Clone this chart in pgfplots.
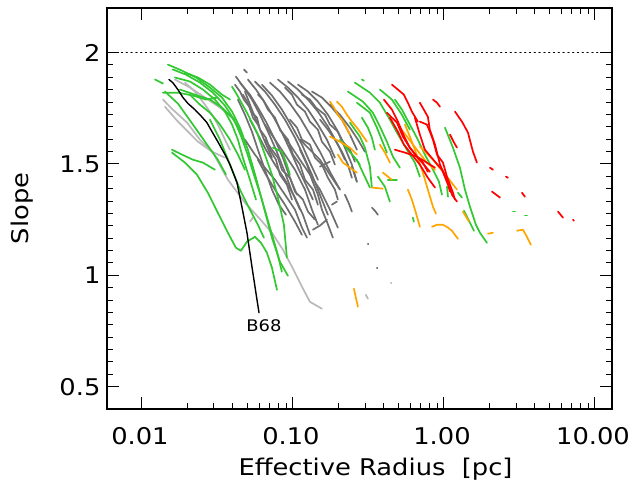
\documentclass[border=0pt]{standalone}
\usepackage{fontspec}
\setmainfont{DejaVu Sans}[FakeStretch=1.12]
\usepackage{pgfplots}
\pgfplotsset{compat=1.18}
\definecolor{cg}{RGB}{50,200,50}
\definecolor{dg}{RGB}{110,110,110}
\definecolor{lg}{RGB}{185,185,185}
\definecolor{co}{RGB}{255,165,0}
\definecolor{cr}{RGB}{255,0,0}
\begin{document}
\begin{tikzpicture}
\begin{axis}[
  name=ax,
  scale only axis, width=505pt, height=401pt,
  xmode=log, xmin=0.00587, xmax=12.96, ymin=0.4, ymax=2.2,
  xtick={0.01,0.1,1,10}, xticklabels={0.01,0.10,1.00,10.00},
  ytick={0.5,1,1.5,2}, yticklabels={0.5,1,1.5,2},
  minor y tick num=8,
  tick align=inside, major tick length=12pt, minor tick length=6pt,
  axis line style={line width=1.3pt}, tick style={line width=1pt,black},
  /pgf/number format/assume math mode=true,
  every tick label/.append style={font=\fontsize{23}{26}\selectfont},
  xticklabel style={yshift=-15pt, xshift=-2pt},
  yticklabel style={xshift=-3pt},
  xlabel={Effective Radius\ \ [pc]}, ylabel={Slope},
  label style={font=\fontsize{23}{26}\selectfont},
  xlabel style={at={(axis description cs:0.5,0)}, anchor=center, yshift=-60pt, xshift=16pt},
  ylabel style={at={(axis description cs:0,0.5)}, anchor=center, yshift=85pt},
  clip=true,
  every axis plot/.append style={no marks, line width=1.7pt, line cap=round, line join=round},
]
\addplot[black, line width=1.1pt, dash pattern=on 1.2pt off 3.6pt] coordinates {(0.00587,2) (12.96,2)};
% dark gray
\addplot[dg] coordinates {(0.0419,1.892)(0.0473,1.843)(0.0535,1.789)(0.06045,1.721)(0.0683,1.645)(0.0772,1.564)(0.0871,1.474)(0.0985,1.376)(0.1113,1.295)};
\addplot[dg] coordinates {(0.04457,1.865)(0.0519,1.811)(0.0586,1.753)(0.0662,1.690)(0.0760,1.609)(0.0858,1.528)(0.0955,1.438)(0.1063,1.362)};
\addplot[dg] coordinates {(0.0503,1.879)(0.0569,1.834)(0.0652,1.775)(0.0748,1.708)(0.0845,1.641)(0.0955,1.564)(0.1079,1.483)(0.1219,1.407)(0.1356,1.340)};
\addplot[dg] coordinates {(0.0560,1.870)(0.0652,1.825)(0.0760,1.766)(0.0885,1.699)(0.1031,1.618)(0.1164,1.542)(0.1336,1.452)(0.1509,1.362)(0.1704,1.272)};
\addplot[dg] coordinates {(0.0623,1.856)(0.0726,1.807)(0.0845,1.744)(0.0985,1.668)(0.1147,1.587)(0.1296,1.506)(0.1463,1.429)};
\addplot[dg] coordinates {(0.0704,1.865)(0.0820,1.825)(0.0955,1.771)(0.1113,1.708)(0.1296,1.632)(0.1509,1.555)(0.1757,1.465)(0.2046,1.385)};
\addplot[dg] coordinates {(0.0795,1.879)(0.0926,1.843)(0.1079,1.798)(0.1257,1.744)(0.1463,1.677)(0.1678,1.609)(0.1896,1.528)};
\addplot[dg] coordinates {(0.0926,1.870)(0.1079,1.834)(0.1257,1.789)(0.1463,1.735)(0.1704,1.668)(0.1984,1.587)(0.2208,1.519)};
\addplot[dg] coordinates {(0.1079,1.856)(0.1257,1.825)(0.1463,1.780)(0.1704,1.721)(0.1954,1.654)(0.2208,1.573)(0.2456,1.497)(0.2651,1.420)};
\addplot[dg] coordinates {(0.1336,1.825)(0.1555,1.798)(0.1811,1.753)(0.2109,1.699)(0.2383,1.632)(0.2651,1.564)};
\addplot[dg] coordinates {(0.0432,1.789)(0.0481,1.721)(0.0535,1.645)(0.0586,1.564)(0.0652,1.474)(0.0726,1.385)(0.0807,1.317)(0.0899,1.272)};
\addplot[dg] coordinates {(0.0519,1.699)(0.0586,1.632)(0.0662,1.564)(0.0760,1.497)(0.0885,1.429)(0.1031,1.349)(0.1164,1.272)(0.1296,1.182)};
\addplot[dg] coordinates {(0.0652,1.677)(0.0760,1.609)(0.0885,1.542)(0.1031,1.474)(0.1201,1.385)(0.1336,1.295)(0.1463,1.227)};
\addplot[dg] coordinates {(0.0820,1.654)(0.0955,1.587)(0.1113,1.519)(0.1296,1.452)(0.1509,1.385)(0.1757,1.295)(0.1984,1.214)};
\addplot[dg] coordinates {(0.1113,1.609)(0.1296,1.564)(0.1509,1.519)(0.1757,1.452)(0.2046,1.385)};
\addplot[dg] coordinates {(0.0481,1.609)(0.0560,1.542)(0.0652,1.483)(0.0760,1.429)(0.0885,1.362)(0.1031,1.295)(0.1147,1.214)(0.1238,1.169)};
\addplot[dg] coordinates {(0.0586,1.519)(0.0662,1.452)(0.0760,1.385)(0.0885,1.317)(0.1031,1.241)(0.1147,1.182)};
\addplot[dg] coordinates {(0.0466,1.811)(0.0503,1.775)(0.0527,1.735)(0.0578,1.708)(0.0605,1.654)(0.0662,1.618)(0.0704,1.564)(0.0772,1.519)(0.0820,1.452)(0.0912,1.407)(0.0985,1.340)};
\addplot[dg] coordinates {(0.0586,1.811)(0.0632,1.789)(0.0683,1.744)(0.0760,1.708)(0.0820,1.654)(0.0926,1.609)(0.1000,1.542)(0.1113,1.497)(0.1201,1.429)(0.1356,1.385)(0.1463,1.317)};
\addplot[dg] coordinates {(0.0885,1.843)(0.0985,1.811)(0.1063,1.766)(0.1201,1.735)(0.1296,1.690)(0.1463,1.654)(0.1555,1.600)(0.1757,1.555)(0.1896,1.497)};
\addplot[dg] coordinates {(0.1147,1.811)(0.1296,1.789)(0.1420,1.753)(0.1628,1.721)(0.1757,1.677)(0.1984,1.645)(0.2142,1.600)(0.2383,1.564)(0.2572,1.510)};
\addplot[dg] coordinates {(0.0652,1.609)(0.0726,1.564)(0.0795,1.528)(0.0845,1.474)(0.0955,1.438)(0.1031,1.376)(0.1164,1.340)(0.1257,1.286)(0.1398,1.250)};
\addplot[dg] coordinates {(0.0955,1.699)(0.1063,1.663)(0.1147,1.609)(0.1296,1.587)(0.1398,1.528)(0.1555,1.497)(0.1704,1.438)(0.1896,1.385)(0.1984,1.340)};
\addplot[dg] coordinates {(0.0413,1.856)(0.0446,1.825)(0.0473,1.789)(0.0519,1.753)(0.0543,1.708)(0.0586,1.677)};
\addplot[dg] coordinates {(0.1113,1.564)(0.1238,1.497)(0.1336,1.429)(0.1463,1.362)(0.1555,1.295)(0.1678,1.241)(0.1839,1.169)};
\addplot[dg] coordinates {(0.1509,1.699)(0.1704,1.654)(0.1896,1.609)(0.2109,1.555)(0.2311,1.497)(0.2456,1.438)};
\addplot[dg] coordinates {(0.1356,1.205)(0.1509,1.223)(0.1678,1.250)};
\addplot[dg] coordinates {(0.1811,1.317)(0.1954,1.331)};
\addplot[dg] coordinates {(0.2208,1.362)(0.2347,1.322)(0.2456,1.286)};
\addplot[dg] coordinates {(0.3332,1.304)(0.3488,1.290)(0.3651,1.272)};
\addplot[dg] coordinates {(0.2456,1.488)(0.2651,1.420)};
\addplot[dg] coordinates {(0.1509,1.488)(0.1757,1.510)};
\addplot[dg] coordinates {(0.1757,1.766)(0.2046,1.721)(0.2383,1.663)(0.2692,1.609)(0.2995,1.555)};
\addplot[dg] coordinates {(0.0481,1.825)(0.0535,1.744)(0.0586,1.677)(0.0652,1.600)(0.0726,1.528)};
\addplot[dg] coordinates {(0.0473,1.924)(0.0496,1.910)};
\addplot[dg] coordinates {(0.3135,1.142)(0.3150,1.140)};
\addplot[dg] coordinates {(0.3596,1.034)(0.3620,1.032)};
\addplot[lg] coordinates {(0.4452,0.967)(0.4480,0.965)};
% light gray
\addplot[lg] coordinates {(0.01377,1.789)(0.0160,1.744)(0.01987,1.686)(0.02422,1.609)(0.0295,1.551)(0.0371,1.429)(0.0481,1.326)(0.0586,1.263)(0.0726,1.191)(0.0858,1.115)(0.0985,1.039)(0.1147,0.949)(0.1296,0.881)(0.1555,0.850)};
\addplot[lg] coordinates {(0.0142,1.757)(0.01731,1.690)(0.02017,1.645)(0.02348,1.600)(0.0291,1.555)(0.03546,1.528)};
\addplot[lg] coordinates {(0.01927,1.865)(0.02244,1.825)(0.02614,1.766)(0.0291,1.721)(0.0318,1.677)(0.03546,1.609)(0.0383,1.564)};
\addplot[lg] coordinates {(0.01654,1.879)(0.02079,1.843)(0.02614,1.798)(0.03286,1.753)(0.04129,1.699)};
\addplot[lg] coordinates {(0.0519,1.241)(0.0543,1.259)};
\addplot[lg] coordinates {(0.3040,0.913)(0.3135,0.895)};
% green left
\addplot[cg] coordinates {(0.01486,1.946)(0.01840,1.919)(0.0228,1.888)(0.0282,1.843)(0.0339,1.798)(0.0395,1.735)(0.04457,1.663)(0.0503,1.564)(0.0569,1.438)(0.0642,1.304)(0.0726,1.169)(0.0820,1.061)(0.0926,0.998)};
\addplot[cg] coordinates {(0.0160,1.924)(0.01957,1.901)(0.02422,1.865)(0.0295,1.820)(0.03546,1.762)(0.0407,1.699)(0.0452,1.627)(0.0496,1.551)(0.0551,1.452)(0.0623,1.340)(0.0704,1.214)(0.0784,1.106)(0.0845,1.016)};
\addplot[cg] coordinates {(0.0122,1.879)(0.01377,1.861)};
\addplot[cg] coordinates {(0.01377,1.820)(0.01731,1.820)(0.02176,1.807)(0.0265,1.789)(0.0318,1.798)};
\addplot[cg] coordinates {(0.0142,1.825)(0.01731,1.771)(0.02017,1.708)(0.02348,1.645)(0.0273,1.582)(0.0318,1.519)(0.0360,1.452)};
\addplot[cg] coordinates {(0.0158,1.564)(0.0184,1.542)(0.02176,1.519)(0.02533,1.506)(0.03043,1.474)};
\addplot[cg] coordinates {(0.0158,1.551)(0.01927,1.506)(0.02313,1.452)(0.0273,1.371)(0.0318,1.281)(0.0371,1.191)(0.0419,1.124)(0.0452,1.110)(0.0496,1.151)(0.0560,1.173)(0.0614,1.146)(0.0672,1.102)(0.0726,1.034)(0.0784,0.935)};
\addplot[cg] coordinates {(0.0395,1.847)(0.0426,1.811)(0.0496,1.730)(0.0578,1.641)(0.0652,1.542)(0.0726,1.452)(0.0795,1.349)(0.0871,1.227)(0.0912,1.079)};
\addplot[cg] coordinates {(0.0737,1.573)(0.0845,1.555)(0.0912,1.497)(0.0955,1.452)};
\addplot[cg] coordinates {(0.01927,1.910)(0.02348,1.888)(0.0282,1.856)(0.0339,1.811)(0.0383,1.789)};
\addplot[cg] coordinates {(0.01785,1.834)(0.02244,1.811)(0.0282,1.789)(0.0339,1.753)(0.0395,1.708)(0.04457,1.654)(0.0488,1.587)};
\addplot[cg] coordinates {(0.0282,1.699)(0.03286,1.609)(0.0383,1.497)(0.04457,1.385)(0.0519,1.295)(0.0586,1.227)(0.0642,1.169)};
\addplot[cg] coordinates {(0.01654,1.888)(0.02079,1.870)(0.02533,1.834)(0.03043,1.789)(0.03546,1.735)(0.0395,1.677)(0.0432,1.609)(0.0466,1.528)(0.0519,1.429)(0.0569,1.340)};
\addplot[cg] coordinates {(0.02079,1.811)(0.02422,1.766)(0.0282,1.730)(0.03286,1.677)(0.03826,1.609)(0.0432,1.542)(0.0481,1.474)};
% green right
\addplot[cg] coordinates {(0.2311,1.825)(0.2905,1.780)(0.3383,1.730)(0.3764,1.668)(0.4188,1.600)(0.4589,1.533)(0.5105,1.483)};
\addplot[cg] coordinates {(0.2572,1.865)(0.3232,1.820)(0.3764,1.775)(0.4384,1.699)(0.4877,1.641)(0.5680,1.564)(0.6416,1.506)(0.6923,1.443)};
\addplot[cg] coordinates {(0.2651,1.775)(0.3232,1.730)(0.3596,1.663)(0.3940,1.596)(0.4188,1.551)};
\addplot[cg] coordinates {(0.2383,1.686)(0.2775,1.623)(0.2995,1.573)(0.3232,1.488)(0.3332,1.394)};
\addplot[cg] coordinates {(0.2651,1.519)(0.2905,1.461)(0.3232,1.394)};
\addplot[cg] coordinates {(0.3651,1.443)(0.4062,1.398)(0.4384,1.331)};
\addplot[cg] coordinates {(0.4252,1.429)(0.4877,1.429)};
\addplot[cg] coordinates {(1.0153,1.663)(1.1468,1.573)(1.2758,1.483)(1.3768,1.385)(1.4861,1.308)(1.628,1.227)(1.731,1.191)(1.926,1.146)};
\addplot[cg] coordinates {(1.356,1.290)(1.4635,1.245)(1.580,1.200)};
\addplot[cg] coordinates {(1.0468,1.398)(1.0628,1.353)};
\addplot[cg] coordinates {(1.2376,1.371)(1.3153,1.349)};
\addplot[cg] coordinates {(0.6223,1.259)(0.6319,1.241)};
\addplot[cg] coordinates {(0.4731,1.789)(0.5262,1.744)(0.5945,1.677)(0.6716,1.609)(0.7472,1.542)(0.8327,1.483)(0.9265,1.420)(0.9700,1.362)};
\addplot[cg] coordinates {(0.2861,1.708)(0.3135,1.663)(0.3332,1.618)(0.3488,1.564)};
\addplot[cg] coordinates {(0.2046,1.609)(0.2311,1.564)(0.2572,1.528)(0.2775,1.497)};
\addplot[cg] coordinates {(0.3764,1.834)(0.4520,1.789)(0.5262,1.721)(0.5945,1.654)};
\addplot[cg] coordinates {(2.863,1.286)(2.951,1.286)};
\addplot[cg] coordinates {(3.436,1.268)(3.543,1.268)};
\addplot[cg] coordinates {(0.2861,1.879)(0.2948,1.874)};
% orange
\addplot[co] coordinates {(0.1757,1.780)(0.1867,1.753)(0.1984,1.721)(0.2109,1.699)(0.2208,1.677)(0.2383,1.632)};
\addplot[co] coordinates {(0.1954,1.780)(0.2109,1.757)(0.2276,1.721)(0.2456,1.690)(0.2651,1.663)(0.2861,1.632)(0.3088,1.600)};
\addplot[co] coordinates {(0.1757,1.623)(0.2046,1.600)(0.2383,1.573)(0.2651,1.542)};
\addplot[co] coordinates {(0.1984,1.542)(0.2142,1.506)(0.2383,1.483)(0.2651,1.461)};
\addplot[co] coordinates {(0.5509,1.677)(0.5945,1.623)(0.6416,1.564)(0.7248,1.461)(0.7821,1.385)(0.8455,1.308)(0.8850,1.277)};
\addplot[co] coordinates {(0.5767,1.385)(0.6129,1.340)(0.6515,1.281)(0.6923,1.218)};
\addplot[co] coordinates {(0.3332,1.394)(0.3940,1.389)};
\addplot[co] coordinates {(0.8327,1.218)(0.8987,1.227)(0.9849,1.227)(1.0628,1.214)(1.1295,1.200)(1.2376,1.164)};
\addplot[co] coordinates {(3.046,1.200)(3.333,1.205)(3.543,1.173)(3.763,1.137)};
\addplot[co] coordinates {(1.3355,1.286)(1.4635,1.241)};
\addplot[co] coordinates {(0.2533,0.940)(0.2612,0.899)(0.2692,0.859)};
\addplot[co] coordinates {(0.3764,1.587)(0.4062,1.551)(0.4384,1.506)};
\addplot[co] coordinates {(0.5105,1.663)(0.5767,1.618)(0.6614,1.564)(0.7703,1.506)(0.8717,1.474)};
\addplot[co] coordinates {(0.6923,1.578)(0.8455,1.519)(1.0468,1.443)(1.2189,1.385)};
\addplot[co] coordinates {(1.956,1.187)(2.110,1.191)};
\addplot[co] coordinates {(0.3940,1.461)(0.4520,1.429)};
% red
\addplot[cr] coordinates {(0.4520,1.856)(0.4952,1.834)(0.5426,1.811)(0.5767,1.775)(0.6129,1.735)(0.6716,1.690)};
\addplot[cr] coordinates {(0.4000,1.789)(0.4520,1.744)(0.4952,1.690)(0.5426,1.627)(0.5945,1.573)(0.6716,1.528)(0.7472,1.492)(0.8063,1.465)};
\addplot[cr] coordinates {(0.4188,1.730)(0.4877,1.686)(0.5344,1.623)(0.5945,1.573)(0.6614,1.533)(0.7248,1.506)(0.7821,1.465)};
\addplot[cr] coordinates {(0.4384,1.708)(0.4952,1.645)(0.5426,1.587)(0.6129,1.542)(0.6923,1.497)(0.7821,1.438)(0.8717,1.394)};
\addplot[cr] coordinates {(0.4731,1.564)(0.5509,1.551)(0.6614,1.533)(0.7703,1.506)(0.8717,1.483)};
\addplot[cr] coordinates {(0.6923,1.690)(0.7703,1.677)(0.8063,1.645)(0.8455,1.609)(0.8987,1.542)(0.9849,1.506)(1.0468,1.443)(1.1468,1.371)(1.1823,1.340)};
\addplot[cr] coordinates {(0.6923,1.775)(0.7821,1.712)(0.8063,1.654)(0.8717,1.587)(0.9408,1.497)(1.0468,1.429)(1.1295,1.362)(1.2189,1.331)};
\addplot[cr] coordinates {(0.6416,1.708)(0.6923,1.632)(0.7472,1.564)(0.8717,1.510)(0.9700,1.474)(1.0628,1.407)(1.0957,1.376)};
\addplot[cr] coordinates {(0.8455,1.789)(0.8987,1.775)(0.9408,1.757)};
\addplot[cr] coordinates {(1.1823,1.735)(1.3153,1.690)(1.4414,1.641)(1.556,1.555)(1.653,1.506)};
\addplot[cr] coordinates {(1.0957,1.632)(1.1468,1.605)(1.2189,1.573)};
\addplot[cr] coordinates {(2.078,1.376)(2.349,1.349)};
\addplot[cr] coordinates {(3.282,1.371)(3.436,1.353)};
\addplot[cr] coordinates {(5.69,1.286)(6.14,1.259)};
\addplot[cr] coordinates {(2.016,1.483)(2.110,1.474)};
\addplot[cr] coordinates {(2.574,1.443)(2.655,1.438)};
\addplot[cr] coordinates {(7.14,1.250)(7.25,1.245)};
% B68
\addplot[black, line width=1.4pt] coordinates {(0.0151,1.879)(0.0160,1.865)(0.0173,1.834)(0.0187,1.798)(0.0202,1.771)(0.0224,1.744)(0.0242,1.721)(0.0269,1.686)(0.0291,1.645)(0.0318,1.600)(0.0355,1.542)(0.0383,1.497)(0.0426,1.416)(0.0459,1.308)(0.0496,1.191)(0.0535,1.039)(0.0578,0.890)(0.0596,0.832)};
\node[font=\fontsize{16}{18}\selectfont] at (axis cs:0.0643,0.774) {B68};
\end{axis}
\path ([xshift=-107pt,yshift=-78pt]ax.south west) rectangle ([xshift=24pt,yshift=8pt]ax.north east);
\end{tikzpicture}
\end{document}
